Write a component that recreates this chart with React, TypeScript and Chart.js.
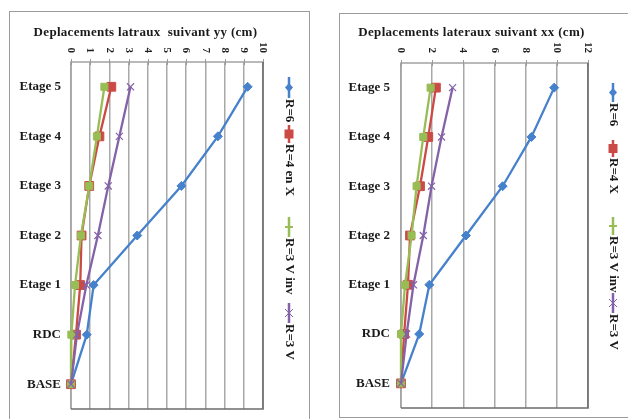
import { useEffect, useRef } from 'react';
import { Chart, registerables } from 'chart.js';

Chart.register(...registerables);

// ---------- data ----------
const categories = ['Etage 5', 'Etage 4', 'Etage 3', 'Etage 2', 'Etage 1', 'RDC', 'BASE'];

const titleYY = 'Deplacements latraux  suivant yy (cm)';
const titleXX = 'Deplacements lateraux suivant xx (cm)';

const legendYY = ['R=6', 'R=4 en X', 'R=3 V inv', 'R=3 V'];
const legendXX = ['R=6', 'R=4 X', 'R=3 V inv', 'R=3 V'];

const yyR6 = [9.2, 7.65, 5.75, 3.45, 1.18, 0.82, 0];
const yyR4 = [2.1, 1.48, 0.95, 0.55, 0.48, 0.26, 0];
const yyR3Vinv = [1.74, 1.35, 0.95, 0.52, 0.21, 0.02, 0];
const yyR3V = [3.1, 2.52, 1.94, 1.4, 0.8, 0.31, 0];

const xxR6 = [9.83, 8.37, 6.52, 4.17, 1.82, 1.17, 0];
const xxR4 = [2.24, 1.75, 1.22, 0.58, 0.45, 0.2, 0];
const xxR3Vinv = [1.9, 1.43, 1.0, 0.68, 0.26, 0.0, 0];
const xxR3V = [3.31, 2.6, 1.96, 1.43, 0.8, 0.36, 0];

const yyMax = 10;
const yyStep = 1;
const xxMax = 12;
const xxStep = 2;

// ---------- styles ----------
const COLORS = ['#4681cc', '#cc4a45', '#98bd55', '#8462a8'];
const SERIF = '"Liberation Serif", "DejaVu Serif", serif';

type PanelProps = {
  left: number;
  top: number;
  width: number;
  height: number;
  title: string;
  titleX: number;
  titleY: number;
  legend: string[];
  legendX: number;
  legendYs: [number, number][];
  series: number[][];
  xMax: number;
  xStep: number;
  areaLeft: number;
  areaTop: number;
  areaRight: number;
  areaBottom: number;
  labelPad: number;
  tickEndY: number;
  showBottomBorder: boolean;
};

function drawMarker(ctx: CanvasRenderingContext2D, idx: number, x: number, y: number) {
  const c = COLORS[idx];
  ctx.save();
  ctx.fillStyle = c;
  ctx.strokeStyle = c;
  if (idx === 0) {
    ctx.beginPath();
    ctx.moveTo(x, y - 4.5);
    ctx.lineTo(x + 4, y);
    ctx.lineTo(x, y + 4.5);
    ctx.lineTo(x - 4, y);
    ctx.closePath();
    ctx.fill();
  } else if (idx === 1) {
    ctx.fillRect(x - 4.5, y - 4.5, 9, 9);
  } else if (idx === 2) {
    ctx.lineWidth = 2;
    ctx.beginPath();
    ctx.moveTo(x - 4, y);
    ctx.lineTo(x + 4, y);
    ctx.stroke();
  } else {
    ctx.lineWidth = 1;
    ctx.beginPath();
    ctx.moveTo(x - 4, y - 4);
    ctx.lineTo(x + 4, y + 4);
    ctx.moveTo(x + 4, y - 4);
    ctx.lineTo(x - 4, y + 4);
    ctx.stroke();
  }
  ctx.restore();
}

function Panel(p: PanelProps) {
  const ref = useRef<HTMLCanvasElement | null>(null);

  useEffect(() => {
    if (!ref.current) return;
    const pointStyles = ['rectRot', 'rect', 'rect', 'crossRot'];
    const pointRadii = [4.5, 6.2, 5, 5];

    const decor = {
      id: 'decor',
      beforeDatasetsDraw(chart: any) {
        const ctx = chart.ctx as CanvasRenderingContext2D;
        const a = chart.chartArea;
        ctx.save();
        // left and top axis lines
        ctx.strokeStyle = '#a2a2a2';
        ctx.lineWidth = 1.5;
        ctx.beginPath();
        ctx.moveTo(a.left, a.bottom);
        ctx.lineTo(a.left, a.top);
        ctx.lineTo(a.right, a.top);
        ctx.stroke();
        // tick marks on top axis
        const xs = chart.scales.x;
        ctx.lineWidth = 1;
        ctx.strokeStyle = '#9a9a9a';
        ctx.beginPath();
        for (const t of xs.ticks) {
          const px = Math.round(xs.getPixelForValue(t.value)) + 0.5;
          ctx.moveTo(px, a.top - 3);
          ctx.lineTo(px, a.top + 3);
        }
        ctx.stroke();
        // right and bottom frame
        ctx.strokeStyle = '#6c6c6c';
        ctx.lineWidth = 1.6;
        ctx.beginPath();
        ctx.moveTo(a.right, a.top);
        ctx.lineTo(a.right, a.bottom);
        ctx.lineTo(a.left, a.bottom);
        ctx.stroke();
        ctx.restore();
      },
      afterDraw(chart: any) {
        const ctx = chart.ctx as CanvasRenderingContext2D;
        const xs = chart.scales.x;
        const ys = chart.scales.y;
        const a = chart.chartArea;
        ctx.save();
        // x tick labels rotated clockwise
        ctx.fillStyle = '#1e1e1e';
        ctx.font = `bold 11px ${SERIF}`;
        for (const t of xs.ticks) {
          const px = xs.getPixelForValue(t.value);
          ctx.save();
          ctx.translate(px, p.tickEndY);
          ctx.rotate(Math.PI / 2);
          ctx.textAlign = 'right';
          ctx.textBaseline = 'middle';
          ctx.fillText(String(t.value), 0, 0);
          ctx.restore();
        }
        // y category labels
        ctx.font = `bold 13px ${SERIF}`;
        ctx.fillStyle = '#1a1a1a';
        ctx.textAlign = 'right';
        ctx.textBaseline = 'middle';
        (chart.data.labels as string[]).forEach((lab, i) => {
          ctx.fillText(lab, a.left - p.labelPad, ys.getPixelForValue(i));
        });
        // title
        ctx.font = `bold 13px ${SERIF}`;
        try {
          (ctx as any).letterSpacing = '0.3px';
        } catch (e) {}
        ctx.textAlign = 'center';
        ctx.fillText(p.title, p.titleX, p.titleY);
        try {
          (ctx as any).letterSpacing = '0px';
        } catch (e) {}
        // legend
        p.legend.forEach((label, i) => {
          const [y0, y1] = p.legendYs[i];
          ctx.strokeStyle = COLORS[i];
          ctx.lineWidth = 2.5;
          ctx.beginPath();
          ctx.moveTo(p.legendX, y0);
          ctx.lineTo(p.legendX, y1);
          ctx.stroke();
          drawMarker(ctx, i, p.legendX, (y0 + y1) / 2);
          ctx.save();
          ctx.translate(p.legendX, y1 + 1);
          ctx.rotate(Math.PI / 2);
          ctx.font = `bold 13px ${SERIF}`;
          ctx.fillStyle = '#1a1a1a';
          ctx.textAlign = 'left';
          ctx.textBaseline = 'middle';
          ctx.fillText(label, 0, 0);
          ctx.restore();
        });
        ctx.restore();
      },
    };

    const chart = new Chart(ref.current, {
      type: 'line',
      data: {
        labels: categories,
        datasets: p.series.map((vals, i) => ({
          label: p.legend[i],
          data: vals,
          borderColor: COLORS[i],
          backgroundColor: COLORS[i],
          pointBackgroundColor: COLORS[i],
          pointBorderColor: COLORS[i],
          borderWidth: 2.3,
          pointStyle: pointStyles[i] as any,
          pointRadius: pointRadii[i],
          pointBorderWidth: i === 3 ? 1.2 : 1,
          tension: 0,
          clip: false as any,
          order: 3 - i,
        })),
      },
      options: {
        animation: false,
        responsive: false,
        devicePixelRatio: 1,
        indexAxis: 'y',
        layout: {
          padding: {
            left: 0,
            top: 0,
            right: p.width - p.areaRight,
            bottom: p.height - p.areaBottom,
          },
        },
        plugins: {
          legend: { display: false },
          title: { display: false },
          tooltip: { enabled: false },
        },
        scales: {
          x: {
            type: 'linear',
            position: 'top',
            min: 0,
            max: p.xMax,
            ticks: { stepSize: p.xStep, display: false },
            grid: { color: '#a8a8a8', lineWidth: 1.5, drawTicks: false },
            border: { display: false },
            afterFit: (s: any) => {
              s.height = p.areaTop;
            },
          },
          y: {
            type: 'category',
            offset: true,
            grid: { display: false, drawTicks: false },
            border: { display: false },
            ticks: { display: false },
            afterFit: (s: any) => {
              s.width = p.areaLeft;
            },
          },
        },
      } as any,
      plugins: [decor],
    });
    return () => chart.destroy();
  }, []);

  return (
    <div
      style={{
        position: 'absolute',
        left: p.left,
        top: p.top,
        width: p.width,
        height: p.height,
        borderLeft: '1px solid #9c9c9c',
        borderTop: '1px solid #9c9c9c',
        borderRight: '1px solid #9c9c9c',
        borderBottom: p.showBottomBorder ? '1px solid #9c9c9c' : 'none',
        background: '#fff',
      }}
    >
      <canvas
        ref={ref}
        width={p.width}
        height={p.height}
        style={{ display: 'block', width: p.width, height: p.height }}
      />
    </div>
  );
}

export default function App() {
  return (
    <div
      style={{
        position: 'fixed',
        left: 0,
        top: 0,
        width: 628,
        height: 419,
        overflow: 'hidden',
        background: '#fff',
      }}
    >
      <Panel
        left={9}
        top={11}
        width={299}
        height={412}
        title={titleYY}
        titleX={135.5}
        titleY={21}
        legend={legendYY}
        legendX={279}
        legendYs={[
          [65, 86],
          [113, 131],
          [205, 225],
          [291, 311],
        ]}
        series={[yyR6, yyR4, yyR3Vinv, yyR3V]}
        xMax={yyMax}
        xStep={yyStep}
        areaLeft={61}
        areaTop={50}
        areaRight={253}
        areaBottom={397}
        labelPad={10}
        tickEndY={41}
        showBottomBorder={false}
      />
      <Panel
        left={339}
        top={13}
        width={300}
        height={403}
        title={titleXX}
        titleX={131.5}
        titleY={19}
        legend={legendXX}
        legendX={273}
        legendYs={[
          [69, 88],
          [126, 143],
          [203, 221],
          [279, 299],
        ]}
        series={[xxR6, xxR4, xxR3Vinv, xxR3V]}
        xMax={xxMax}
        xStep={xxStep}
        areaLeft={61}
        areaTop={49}
        areaRight={248}
        areaBottom={394}
        labelPad={11}
        tickEndY={39}
        showBottomBorder={true}
      />
    </div>
  );
}
